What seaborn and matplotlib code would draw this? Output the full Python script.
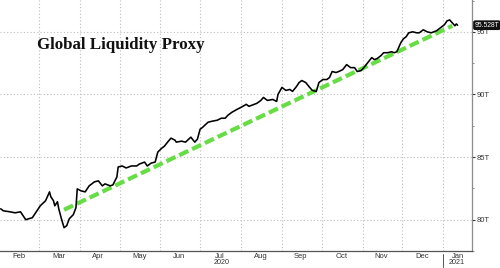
import matplotlib
matplotlib.use("Agg")
import matplotlib.pyplot as plt
import matplotlib.dates as mdates
import matplotlib.transforms as mtransforms
import seaborn as sns
import pandas as pd

# ---- data ----
dates = [
    "2020-02-01", "2020-02-03", "2020-02-08", "2020-02-12", "2020-02-16", "2020-02-20", "2020-02-25",
    "2020-03-02", "2020-03-06", "2020-03-09", "2020-03-10", "2020-03-12", "2020-03-13", "2020-03-15",
    "2020-03-16", "2020-03-18", "2020-03-20", "2020-03-22", "2020-03-24", "2020-03-27", "2020-03-29",
    "2020-03-30", "2020-04-02", "2020-04-05", "2020-04-07", "2020-04-08", "2020-04-12", "2020-04-15",
    "2020-04-18", "2020-04-20", "2020-04-24", "2020-04-26", "2020-04-29", "2020-04-30", "2020-05-03",
    "2020-05-06", "2020-05-10", "2020-05-14", "2020-05-16", "2020-05-20", "2020-05-22", "2020-05-25",
    "2020-05-28", "2020-05-30", "2020-06-02", "2020-06-04", "2020-06-07", "2020-06-09", "2020-06-12",
    "2020-06-13", "2020-06-17", "2020-06-20", "2020-06-24", "2020-06-27", "2020-06-29", "2020-07-01",
    "2020-07-03", "2020-07-07", "2020-07-10", "2020-07-14", "2020-07-17", "2020-07-20", "2020-07-22",
    "2020-07-25", "2020-07-29", "2020-08-01", "2020-08-05", "2020-08-07", "2020-08-11", "2020-08-13",
    "2020-08-16", "2020-08-18", "2020-08-21", "2020-08-25", "2020-08-28", "2020-08-29", "2020-09-01",
    "2020-09-04", "2020-09-07", "2020-09-09", "2020-09-12", "2020-09-14", "2020-09-16", "2020-09-19",
    "2020-09-22", "2020-09-24", "2020-09-27", "2020-09-29", "2020-10-02", "2020-10-05", "2020-10-07",
    "2020-10-09", "2020-10-12", "2020-10-14", "2020-10-17", "2020-10-20", "2020-10-23", "2020-10-26",
    "2020-10-28", "2020-10-31", "2020-11-02", "2020-11-05", "2020-11-08", "2020-11-10", "2020-11-12",
    "2020-11-15", "2020-11-17", "2020-11-20", "2020-11-23", "2020-11-25", "2020-11-27", "2020-11-30",
    "2020-12-02", "2020-12-04", "2020-12-06", "2020-12-09", "2020-12-12", "2020-12-14", "2020-12-17",
    "2020-12-20", "2020-12-23", "2020-12-25", "2020-12-27", "2020-12-30", "2021-01-02", "2021-01-04",
    "2021-01-06", "2021-01-08", "2021-01-10", "2021-01-11", "2021-01-12",
]
liquidity = [
    80.87, 80.71, 80.63, 80.55, 80.63, 80.00, 80.16,
    81.11, 81.51, 82.22, 81.83, 81.51, 81.11, 81.43,
    80.87, 80.08, 79.36, 79.52, 80.08, 80.40, 80.95,
    82.46, 82.30, 82.22, 82.54, 82.70, 83.02, 83.10,
    82.70, 82.86, 82.70, 82.78, 83.41, 84.21, 84.29,
    84.13, 84.29, 84.29, 84.44, 84.60, 84.29, 84.52,
    84.60, 85.40, 85.71, 85.87, 86.27, 86.51, 86.35,
    86.19, 86.27, 86.19, 86.59, 86.19, 86.43, 87.22,
    87.38, 87.78, 87.86, 87.94, 88.10, 88.10, 88.33,
    88.57, 88.81, 88.97, 89.21, 89.05, 89.21, 89.29,
    89.52, 89.76, 89.52, 89.60, 89.44, 90.00, 90.56,
    90.32, 90.40, 90.24, 90.63, 90.95, 91.11, 90.95,
    90.56, 90.32, 90.24, 90.95, 91.19, 91.19, 91.35,
    91.83, 91.75, 91.83, 91.98, 92.38, 92.14, 92.14,
    91.83, 91.91, 92.14, 92.54, 92.94, 92.78, 92.86,
    93.10, 93.33, 93.33, 93.41, 93.33, 93.41, 94.13,
    94.44, 94.60, 94.92, 95.00, 94.92, 94.92, 95.16,
    95.00, 94.92, 95.00, 95.08, 95.32, 95.56, 95.87,
    95.95, 95.71, 95.48, 95.63, 95.528,
]
trend_dates = ["2020-03-20", "2021-01-08"]
trend_values = [80.79, 95.48]

title = "Global Liquidity Proxy"
last_label = "95.528T"
y_ticks = [80, 85, 90, 95]
y_labels = ["80T", "85T", "90T", "95T"]
month_labels = ["Feb", "Mar", "Apr", "May", "Jun", "Jul", "Aug", "Sep", "Oct", "Nov", "Dec", "Jan"]
month_label_dates = ["2020-02-15", "2020-03-16", "2020-04-15", "2020-05-16", "2020-06-15", "2020-07-16",
                     "2020-08-16", "2020-09-15", "2020-10-16", "2020-11-15", "2020-12-16", "2021-01-12"]
month_starts = ["2020-03-01", "2020-04-01", "2020-05-01", "2020-06-01", "2020-07-01", "2020-08-01",
                "2020-09-01", "2020-10-01", "2020-11-01", "2020-12-01", "2021-01-01"]
year_labels = ["2020", "2021"]
year_label_dates = ["2020-07-17", "2021-01-11"]

df = pd.DataFrame({"date": pd.to_datetime(dates), "value": liquidity})
tr = pd.DataFrame({"date": pd.to_datetime(trend_dates), "value": trend_values})

# ---- figure ----
sns.set_style("white")
plt.rcParams["font.family"] = ["Liberation Sans", "DejaVu Sans"]

fig = plt.figure(figsize=(5.0, 2.68), dpi=100)
ax = fig.add_axes([0.0, 17 / 268, 472 / 500, 251 / 268])

sns.lineplot(data=tr, x="date", y="value", ax=ax, color="#66dd44", linewidth=3.0, zorder=3)
ax.lines[-1].set_dashes((2.4, 1.0))
ax.lines[-1].set_dash_capstyle("butt")
sns.lineplot(data=df, x="date", y="value", ax=ax, color="black", linewidth=1.15, zorder=4)

ax.set_xlim(pd.Timestamp("2020-01-31 12:00"), pd.Timestamp("2021-01-22 22:00"))
ax.set_ylim(77.62, 97.54)
ax.set_xlabel("")
ax.set_ylabel("")

# grid
grid_kw = dict(color="#bdbdbd", linestyle=(0, (1, 2)), linewidth=0.8, zorder=0)
for d in month_starts:
    ax.axvline(pd.Timestamp(d), **grid_kw)
for v in y_ticks:
    ax.axhline(v, **grid_kw)

# spines
for s in ["top", "left"]:
    ax.spines[s].set_visible(False)
ax.spines["right"].set_color("#8c8c8c")
ax.spines["bottom"].set_color("#555555")
ax.spines["right"].set_linewidth(0.9)
ax.spines["bottom"].set_linewidth(0.9)

# y axis on right
ax.yaxis.tick_right()
ax.set_yticks(y_ticks)
ax.set_yticklabels(y_labels)
ax.set_yticks([77.5, 82.5, 87.5, 92.5, 97.5], minor=True)
ax.tick_params(axis="y", which="major", direction="out", length=2.5, width=0.8, color="#333333",
               labelsize=5.5, labelcolor="#333333", pad=1)
ax.tick_params(axis="y", which="minor", direction="out", length=1.5, width=0.6, color="#777777")

# x axis: ticks at month starts, labels mid-month
ax.set_xticks([mdates.date2num(pd.Timestamp(d)) for d in month_starts])
ax.set_xticklabels([])
ax.set_xticks([mdates.date2num(pd.Timestamp(d)) for d in month_label_dates], minor=True)
ax.set_xticklabels(month_labels, minor=True)
ax.tick_params(axis="x", which="major", direction="out", length=2, width=0.7, color="#444444")
ax.tick_params(axis="x", which="minor", length=0, labelsize=5.5, labelcolor="#333333", pad=1.5)

# year labels and year separator
trans = mtransforms.blended_transform_factory(ax.transData, ax.transAxes)
for lab, d in zip(year_labels, year_label_dates):
    ax.text(pd.Timestamp(d), -0.032, lab, transform=trans, ha="center", va="top",
            fontsize=5.2, color="#333333", clip_on=False)
ax.plot([pd.Timestamp("2021-01-01")] * 2, [-0.01, -0.064], transform=trans, color="#555555",
        linewidth=0.7, clip_on=False)

# last value box
trans_y = mtransforms.blended_transform_factory(ax.transAxes, ax.transData)
ax.annotate(last_label, xy=(1.0, 95.528), xycoords=trans_y,
            xytext=(1.8, 0), textcoords="offset points", ha="left", va="center",
            fontsize=4.9, color="white", annotation_clip=False,
            family=["Liberation Sans Narrow", "Liberation Sans", "DejaVu Sans"],
            bbox=dict(boxstyle="round,pad=0.2,rounding_size=0.3", fc="#111111", ec="none"))

# title
fig.text(37 / 500, 1 - 45 / 268, title, family=["Liberation Serif", "DejaVu Serif"], weight="bold",
         fontsize=12.2, color="#111111", va="center", ha="left")

fig.savefig("out.png", dpi=100)
